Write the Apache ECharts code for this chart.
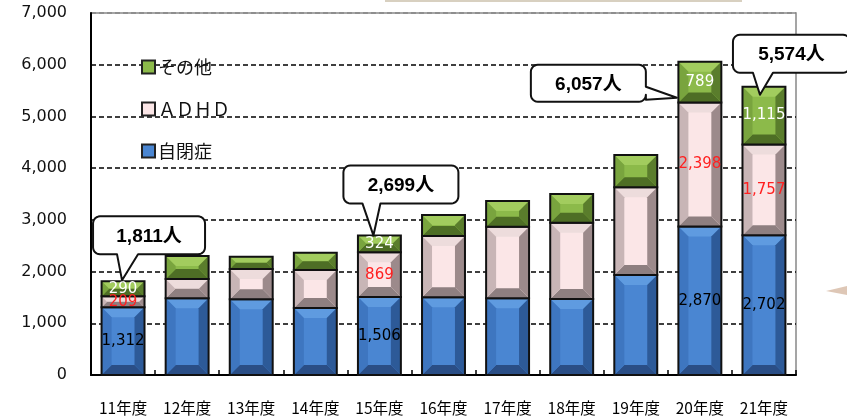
<!DOCTYPE html>
<html><head><meta charset="utf-8">
<script src="https://cdn.jsdelivr.net/npm/echarts@6/dist/echarts.min.js"></script>
<style>html,body{margin:0;padding:0;background:#fff}#c{width:847px;height:419px}</style>
</head><body><div id="c"></div>
<script>
const categories = ['11年度','12年度','13年度','14年度','15年度','16年度','17年度','18年度','19年度','20年度','21年度'];
const autism = [1312,1483,1464,1296,1506,1503,1483,1470,1934,2870,2702];
const adhd   = [209,374,586,735,869,1186,1385,1476,1696,2398,1757];
const other  = [290,445,238,335,324,406,498,555,625,789,1115];
const seriesNames = ['自閉症','ＡＤＨＤ','その他'];
const labeledIdx = [0,4,9,10];
const yTicks = {min:0, max:7000, interval:1000};

const palettes = [
  {center:'#4a86d2', top:'#5f9be0', bottom:'#2a4e86', left:'#3e76c0', right:'#2d5a98', label:'#000000'},
  {center:'#fbe6e7', top:'#eddcdc', bottom:'#8e7f80', left:'#c8b5b6', right:'#9c8a8b', label:'#ff2020'},
  {center:'#8cba4a', top:'#a2cc5e', bottom:'#4e6e25', left:'#79a43e', right:'#5a7d2c', label:'#ffffff'}
];
const values = [autism, adhd, other];

function makeData(s){
  return categories.map((c,i)=>{
    let base = 0;
    for(let k=0;k<s;k++) base += values[k][i];
    return [i, base, base+values[s][i]];
  });
}

function renderBar(s){
  const pal = palettes[s];
  return function(params, api){
    const i = api.value(0), base = api.value(1), top = api.value(2);
    const pt = api.coord([i, top]), pb = api.coord([i, base]);
    const w = api.size([1,0])[0]*0.67;
    const x0 = pt[0]-w/2, x1 = pt[0]+w/2, y0 = pt[1], y1 = pb[1];
    const h = y1-y0;
    const b = Math.min(10, h/2, w/2);
    const children = [
      {type:'rect', shape:{x:x0,y:y0,width:w,height:h}, style:{fill:pal.center}},
      {type:'polygon', shape:{points:[[x0,y0],[x1,y0],[x1-b,y0+b],[x0+b,y0+b]]}, style:{fill:pal.top}},
      {type:'polygon', shape:{points:[[x0,y1],[x1,y1],[x1-b,y1-b],[x0+b,y1-b]]}, style:{fill:pal.bottom}},
      {type:'polygon', shape:{points:[[x0,y0],[x0+b,y0+b],[x0+b,y1-b],[x0,y1]]}, style:{fill:pal.left}},
      {type:'polygon', shape:{points:[[x1,y0],[x1-b,y0+b],[x1-b,y1-b],[x1,y1]]}, style:{fill:pal.right}},
      {type:'rect', shape:{x:x0,y:y0,width:w,height:h}, style:{fill:'none', stroke:'#111', lineWidth:2}}
    ];
    if(labeledIdx.indexOf(i) >= 0){
      children.push({type:'text', z2:100, style:{text:values[s][i].toLocaleString('en-US'), x:pt[0], y:(y0+y1)/2,
        align:'center', verticalAlign:'middle', fill:pal.label, font:'15px "DejaVu Sans", sans-serif'}});
    }
    return {type:'group', children};
  };
}

const chart = echarts.init(document.getElementById('c'), null, {renderer:'canvas'});
const series = [0,1,2].map(s=>({
  name: seriesNames[s], type:'custom', renderItem: renderBar(s),
  data: makeData(s), encode:{x:0, y:[1,2]},
  itemStyle:{color: palettes[s].center, borderColor:'#222', borderWidth:1.5},
  animation:false
}));

chart.setOption({
  animation:false,
  grid:{left:91, right:51, top:13, bottom:44, show:true, borderColor:'#888', borderWidth:1.5},
  legend:{
    data:['その他','ＡＤＨＤ','自閉症'], orient:'vertical', left:136, top:53,
    itemWidth:13, itemHeight:13, itemGap:24, icon:'rect',
    textStyle:{fontSize:18, fontFamily:'"Noto Sans CJK JP", sans-serif', color:'#111', padding:[0,0,0,-2]}
  },
  xAxis:{type:'category', data:categories, boundaryGap:true,
    axisLine:{lineStyle:{color:'#000', width:2}},
    axisTick:{show:true, inside:true, length:5, lineStyle:{color:'#000', width:1.5}},
    axisLabel:{interval:0, fontSize:15.5, color:'#000', margin:25, fontFamily:'"Noto Sans CJK JP", sans-serif'}
  },
  yAxis:{type:'value', min:yTicks.min, max:yTicks.max, interval:yTicks.interval,
    axisLine:{show:true, lineStyle:{color:'#000', width:2}},
    axisTick:{show:false},
    axisLabel:{fontSize:16, color:'#111', margin:24, fontFamily:'"DejaVu Sans", sans-serif',
      formatter:v=>v.toLocaleString('en-US')},
    splitLine:{show:true, lineStyle:{type:[5,3], width:1.5,
      color:['#000','#000','#000','#000','#000','#000','#000','#888']}}
  },
  series
});

const calloutCfg = {
  0:  {box:[-30,-65,82,-27], tail:'bottom', base:[-6,15], tip:[-1,-1]},
  4:  {box:[-36,-70,79,-32], tail:'bottom', base:[-17,1], tip:[-6,0]},
  9:  {box:[-169,3,-54,40], tail:'right', base:[25,38], tip:[-23,36]},
  10: {box:[-31,-52,86,-14], tail:'bottom', base:[-11,9], tip:[-4,8]}
};

function arcPts(cx, cy, r, a0, a1){
  const pts = [];
  for(let k=0;k<=6;k++){
    const a = a0 + (a1-a0)*k/6;
    pts.push([cx + r*Math.cos(a), cy + r*Math.sin(a)]);
  }
  return pts;
}

function calloutPoints(cx, ty, cfg){
  const r = 7, P = Math.PI;
  const x0=cx+cfg.box[0], y0=ty+cfg.box[1], x1=cx+cfg.box[2], y1=ty+cfg.box[3];
  const tip=[cx+cfg.tip[0], ty+cfg.tip[1]];
  let pts = [];
  pts = pts.concat(arcPts(x0+r, y0+r, r, P, 1.5*P));
  pts = pts.concat(arcPts(x1-r, y0+r, r, 1.5*P, 2*P));
  if(cfg.tail==='right'){
    pts.push([x1, ty+cfg.base[0]], tip, [x1, ty+cfg.base[1]]);
  }
  pts = pts.concat(arcPts(x1-r, y1-r, r, 0, 0.5*P));
  if(cfg.tail==='bottom'){
    pts.push([cx+cfg.base[1], y1], tip, [cx+cfg.base[0], y1]);
  }
  pts = pts.concat(arcPts(x0+r, y1-r, r, 0.5*P, P));
  return {pts, tcx:(x0+x1)/2, tcy:(y0+y1)/2};
}

const graphics = [
  {type:'rect', shape:{x:385, y:0, width:357, height:2}, style:{fill:'#d8d0c0'}, z:0},
  {type:'polygon', shape:{points:[[826,291],[847,286],[847,295]]}, style:{fill:'#c8a285', opacity:0.6}, z:0}
];
Object.keys(calloutCfg).forEach(k=>{
  const i = +k;
  const total = autism[i]+adhd[i]+other[i];
  const p = chart.convertToPixel({gridIndex:0}, [i, total]);
  const c = calloutPoints(p[0], p[1], calloutCfg[k]);
  graphics.push({type:'polygon', z:50, shape:{points:c.pts}, style:{fill:'#fff', stroke:'#111', lineWidth:2, lineJoin:'round'}});
  graphics.push({type:'text', z:51, x:c.tcx, y:c.tcy+1, style:{text: total.toLocaleString('en-US')+'人',
    font:'bold 19px "Liberation Sans", "Noto Sans CJK JP", sans-serif', fill:'#000', align:'center', verticalAlign:'middle'}});
});
chart.setOption({graphic: graphics});
</script>
</body></html>
